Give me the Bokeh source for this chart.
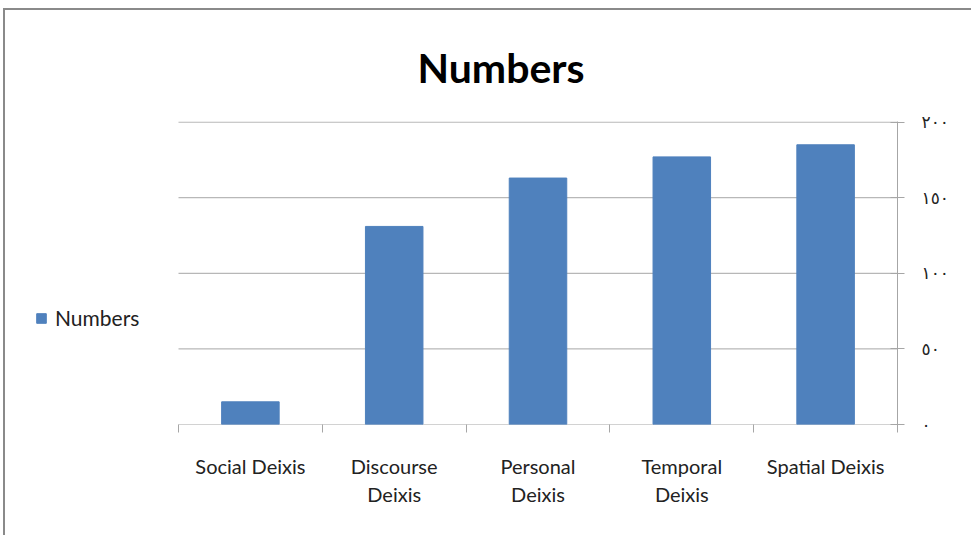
from bokeh.plotting import figure
from bokeh.models import FixedTicker, Legend, LegendItem, ColumnDataSource
from bokeh.embed import file_html
from bokeh.resources import INLINE

categories = ["Social Deixis", "Discourse Deixis", "Personal Deixis", "Temporal Deixis", "Spatial Deixis"]
x_labels = ["Social Deixis", "Discourse\nDeixis", "Personal\nDeixis", "Temporal\nDeixis", "Spatial Deixis"]
values = [15, 131, 163, 177, 185]
y_ticks = [0, 50, 100, 150, 200]
y_tick_labels = ["٠", "٥٠", "١٠٠", "١٥٠", "٢٠٠"]
series_name = "Numbers"

n = len(categories)
xpos = [i + 0.5 for i in range(n)]
src = ColumnDataSource(dict(x=xpos, top=values, cat=categories))
grid_src = ColumnDataSource(dict(x0=[0] * len(y_ticks), x1=[n] * len(y_ticks), y=y_ticks))

BLUE = "#4F81BD"
GRAY = "#a6a6a6"
FONT = "Lato"

# layout in canvas pixels (canvas starts at page x=5, y=10)
CW, CH = 968, 527
FRAME_L, FRAME_R = 7, 892          # frame extends left to hold the legend
PLOT_L = 173                       # where the category axis starts
px_per_unit = (FRAME_R - PLOT_L) / n
x_start = -(PLOT_L - FRAME_L) / px_per_unit

p = figure(width=CW, height=CH, output_backend="svg", toolbar_location=None,
           x_range=(x_start, n), y_range=(0, 200.4), y_axis_location="right",
           min_border_left=FRAME_L, min_border_right=CW - FRAME_R,
           min_border_top=111, min_border_bottom=113, title=series_name)
p.styles = {"border-left": "2px solid #8a8a8a", "border-top": "2px solid #8a8a8a",
            "margin-left": "3px", "margin-top": "8px"}
p.outline_line_color = None
p.background_fill_color = "white"
p.border_fill_color = "white"

# gridlines and category axis line, limited to the category span
p.segment(x0="x0", x1="x1", y0="y", y1="y", source=grid_src, line_color=GRAY, line_width=1)

r = p.vbar(x="x", top="top", width=0.4, bottom=0, source=src, color=BLUE)

p.title.align = "left"
p.title.offset = 405
p.title.text_font = FONT
p.title.text_font_size = "41px"
p.title.text_font_style = "bold"
p.title.text_color = "black"
if "standoff" in p.title.properties():
    p.title.standoff = 60

# x axis
xa = p.xaxis[0]
xa.ticker = FixedTicker(ticks=xpos, minor_ticks=list(range(n + 1)))
xa.major_label_overrides = {x: lab for x, lab in zip(xpos, x_labels)}
xa.major_tick_line_color = None
xa.major_tick_out = 0
xa.major_tick_in = 0
xa.minor_tick_out = 8
xa.minor_tick_in = 0
xa.minor_tick_line_color = GRAY
xa.axis_line_color = None
xa.major_label_standoff = 21
xa.major_label_text_font = FONT
xa.major_label_text_font_size = "20px"
xa.major_label_text_color = "#222222"

# y axis (right)
ya = p.yaxis[0]
ya.ticker = FixedTicker(ticks=y_ticks)
ya.major_label_overrides = {t: lab for t, lab in zip(y_ticks, y_tick_labels)}
ya.axis_line_color = GRAY
ya.major_tick_line_color = GRAY
ya.major_tick_out = 7
ya.major_tick_in = 7
ya.minor_tick_line_color = None
ya.major_label_standoff = 17
ya.major_label_text_font = "DejaVu Sans"
ya.major_label_text_font_size = "17px"
ya.major_label_text_color = "#222222"

p.xgrid.grid_line_color = None
p.ygrid.grid_line_color = None

legend = Legend(items=[LegendItem(label=series_name, renderers=[r])],
                location=(23, 94), padding=0, margin=0, border_line_color=None,
                background_fill_alpha=0, glyph_width=12, glyph_height=12, label_standoff=8,
                label_text_font=FONT, label_text_font_size="21px", label_text_color="#222222")
p.add_layout(legend, "center")

open("out.html", "w").write(file_html(p, INLINE))
